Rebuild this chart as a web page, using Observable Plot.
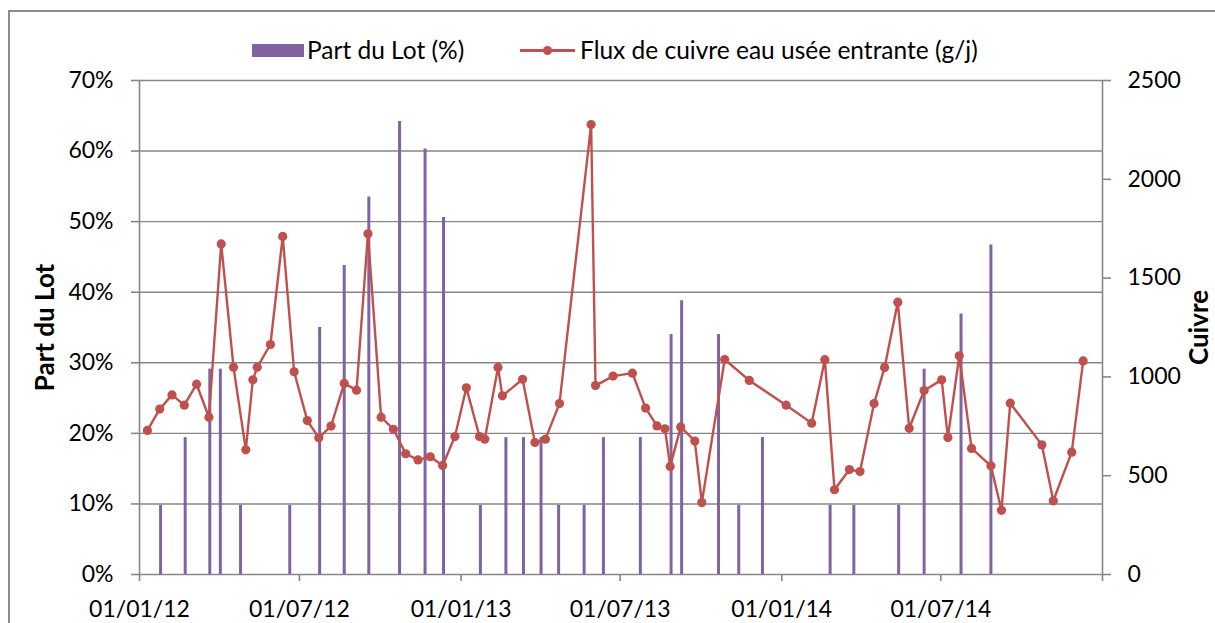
<!DOCTYPE html>
<html><head><meta charset="utf-8">
<script src="https://cdn.jsdelivr.net/npm/d3@7"></script>
<script src="https://cdn.jsdelivr.net/npm/@observablehq/plot@0.6"></script>
<style>
body{margin:0;background:#fff;}
#wrap{position:relative;width:1215px;height:623px;overflow:hidden;font-family:Lato,"Open Sans",sans-serif;color:#000;}
#frame{position:absolute;left:8px;top:10px;width:1400px;height:800px;border:2px solid #8c8c8c;box-sizing:border-box;pointer-events:none;}
#legend{position:absolute;left:0;top:0;width:1215px;height:70px;font-size:24.5px;}
#legend .k{position:absolute;white-space:nowrap;}
#chart svg{display:block;}
</style></head>
<body>
<div id="wrap">
  <div id="chart"></div>
  <div id="legend">
    <div class="k" style="left:252px;top:44px;width:52px;height:13px;background:#8064A2;"></div>
    <div class="k" style="left:307px;top:35px;line-height:30px;">Part du Lot (%)</div>
    <div class="k" style="left:520px;top:49px;width:55px;height:3px;background:#C0504D;"></div>
    <div class="k" style="left:543px;top:46px;width:9px;height:9px;border-radius:50%;background:#C0504D;"></div>
    <div class="k" style="left:580px;top:35px;line-height:30px;">Flux de cuivre eau usée entrante (g/j)</div>
  </div>
  <div id="frame"></div>
</div>
<script>
// Part du Lot (%) bars
const barDates = ["2012-01-25","2012-02-22","2012-03-21","2012-04-02","2012-04-25","2012-06-20","2012-07-24","2012-08-21","2012-09-18","2012-10-23","2012-11-21","2012-12-12","2013-01-23","2013-02-21","2013-03-13","2013-04-02","2013-04-22","2013-05-21","2013-06-12","2013-07-24","2013-08-28","2013-09-09","2013-10-21","2013-11-13","2013-12-10","2014-02-25","2014-03-24","2014-05-14","2014-06-12","2014-07-24","2014-08-27"];
const barValues = [9.8,19.4,29.1,29.1,9.8,9.8,35.0,43.8,53.5,64.2,60.3,50.6,9.8,19.4,19.4,19.4,9.8,9.8,19.4,19.4,34.0,38.8,34.0,9.8,19.4,9.8,9.8,9.8,29.1,36.9,46.7];

// Flux de cuivre eau usée entrante (g/j)
const fluxDates = ["2012-01-10","2012-01-24","2012-02-07","2012-02-21","2012-03-06","2012-03-20","2012-04-03","2012-04-17","2012-05-01","2012-05-09","2012-05-14","2012-05-29","2012-06-12","2012-06-25","2012-07-10","2012-07-23","2012-08-06","2012-08-21","2012-09-04","2012-09-17","2012-10-02","2012-10-16","2012-10-30","2012-11-13","2012-11-27","2012-12-11","2012-12-25","2013-01-07","2013-01-22","2013-01-28","2013-02-12","2013-02-17","2013-03-12","2013-03-26","2013-04-07","2013-04-23","2013-05-29","2013-06-03","2013-06-23","2013-07-15","2013-07-30","2013-08-12","2013-08-21","2013-08-27","2013-09-08","2013-09-24","2013-10-02","2013-10-28","2013-11-25","2014-01-06","2014-02-04","2014-02-19","2014-03-02","2014-03-19","2014-03-31","2014-04-16","2014-04-28","2014-05-13","2014-05-26","2014-06-12","2014-07-02","2014-07-09","2014-07-22","2014-08-05","2014-08-27","2014-09-08","2014-09-18","2014-10-24","2014-11-06","2014-11-27","2014-12-10"];
const fluxValues = [729,837,909,857,963,796,1673,1049,631,985,1049,1164,1711,1026,779,692,751,967,933,1724,796,735,611,580,596,552,698,945,698,685,1048,904,988,668,685,865,2277,956,1004,1019,842,752,737,547,747,675,364,1088,982,857,766,1087,429,531,521,865,1048,1378,740,931,985,693,1107,638,550,325,867,656,373,619,1081];

const leftTicks = [0,10,20,30,40,50,60,70];
const rightTicks = [0,500,1000,1500,2000,2500];
const xTicks = ["2012-01-01","2012-07-01","2013-01-01","2013-07-01","2014-01-01","2014-07-01","2015-01-01"];
const xLabels = ["01/01/12","01/07/12","01/01/13","01/07/13","01/01/14","01/07/14",""];

const leftMax = 70, rightMax = 2500;
const toLeft = v => v * leftMax / rightMax;

const bars = barDates.map((d,i) => ({date: new Date(d), pct: barValues[i]}));
const flux = fluxDates.map((d,i) => ({date: new Date(d), v: fluxValues[i]}));
const xt = xTicks.map(d => new Date(d));

const grid = "#878787";
const fs = 23;
const chart = Plot.plot({
  width: 1215, height: 623,
  marginTop: 80, marginBottom: 49, marginLeft: 139, marginRight: 113,
  style: {fontFamily: "Lato, 'Open Sans', sans-serif", fontSize: fs + "px", background: "#fff", color: "#000"},
  x: {type: "utc", domain: [xt[0], xt[xt.length-1]]},
  y: {domain: [0, leftMax]},
  marks: [
    Plot.ruleY(leftTicks.slice(1), {stroke: grid, strokeWidth: 1.4}),
    Plot.ruleY([0], {stroke: grid, strokeWidth: 1.6}),
    Plot.ruleX([xt[0], xt[xt.length-1]], {stroke: grid, strokeWidth: 1.6}),
    Plot.axisY(leftTicks, {anchor: "left", tickFormat: d => d + "%", tickSize: 8, tickPadding: 18, stroke: grid, strokeWidth: 1.6, fontSize: fs, label: null}),
    Plot.axisY(rightTicks.map(toLeft), {anchor: "right", tickFormat: d => String(Math.round(d * rightMax / leftMax)), tickSize: 8, tickPadding: 17, stroke: grid, strokeWidth: 1.6, fontSize: fs, label: null}),
    Plot.axisX(xt, {anchor: "bottom", tickFormat: (d) => xLabels[xt.findIndex(t => +t === +d)], tickSize: 7, tickPadding: 19, stroke: grid, strokeWidth: 1.6, fontSize: fs, label: null}),
    Plot.text(["Part du Lot"], {frameAnchor: "left", textAnchor: "middle", dx: -94, rotate: -90, fontWeight: "bold", fontSize: 26}),
    Plot.text(["Cuivre"], {frameAnchor: "right", textAnchor: "middle", dx: 97, rotate: -90, fontWeight: "bold", fontSize: 26}),
    Plot.ruleX(bars, {x: "date", y1: 0, y2: "pct", stroke: "#8064A2", strokeWidth: 3}),
    Plot.line(flux, {x: "date", y: d => toLeft(d.v), stroke: "#C0504D", strokeWidth: 2.4}),
    Plot.dot(flux, {x: "date", y: d => toLeft(d.v), r: 4.6, fill: "#C0504D", stroke: "none"})
  ]
});
document.getElementById("chart").appendChild(chart);
</script>
</body></html>
